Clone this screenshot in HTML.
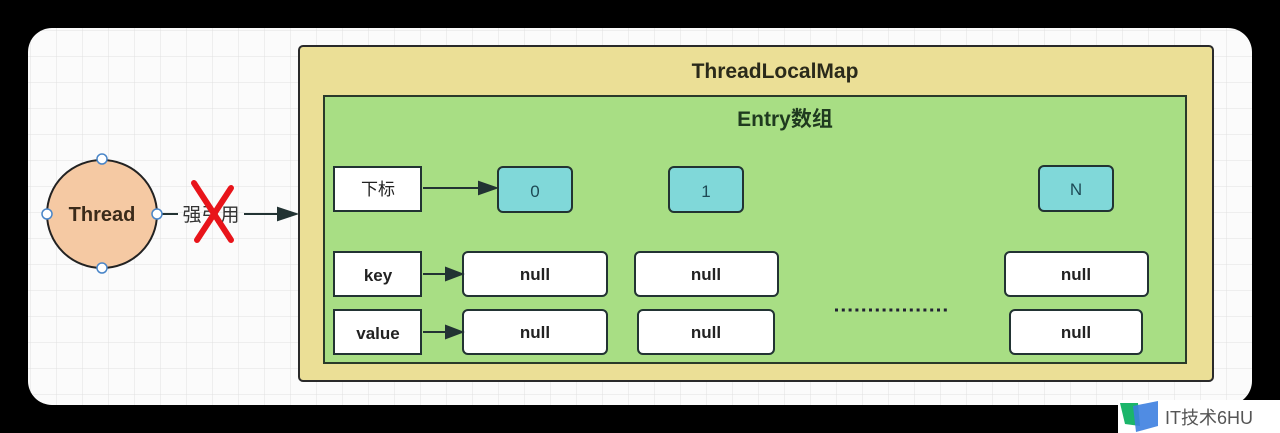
<!DOCTYPE html>
<html><head><meta charset="utf-8"><style>
html,body{margin:0;padding:0;background:#000;width:1280px;height:433px;overflow:hidden}
svg{display:block}
text{font-family:"Liberation Sans","Noto Sans CJK SC",sans-serif}
</style></head><body>
<svg width="1280" height="433" viewBox="0 0 1280 433" xmlns="http://www.w3.org/2000/svg">
<defs>
<pattern id="g" width="26" height="26" patternUnits="userSpaceOnUse" x="5" y="5">
<path d="M26 0V26M0 26H26" fill="none" stroke="#e0e0e0" stroke-width="1"/>
</pattern>
<clipPath id="cc"><rect x="28" y="28" width="1224" height="377" rx="24"/></clipPath>
</defs>
<rect x="28" y="28" width="1224" height="377" rx="24" fill="#fbfbfb"/>
<rect x="28" y="28" width="1224" height="377" fill="url(#g)" clip-path="url(#cc)"/>
<rect x="299" y="46" width="914" height="335" rx="4" fill="#ebdf96" stroke="#2a2a2a" stroke-width="2"/>
<text x="775" y="78" font-size="21" font-weight="bold" text-anchor="middle" fill="#2a2a1a">ThreadLocalMap</text>
<rect x="324" y="96" width="862" height="267" fill="#a8de84" stroke="#2a3a2a" stroke-width="2"/>
<text x="785" y="126" font-size="21" font-weight="bold" text-anchor="middle" fill="#1f3a1f">Entry数组</text>
<g stroke="#233" stroke-width="2">
<rect x="334" y="167" width="87" height="44" fill="#fff"/>
<rect x="334" y="252" width="87" height="44" fill="#fff"/>
<rect x="334" y="310" width="87" height="44" fill="#fff"/>
<rect x="498" y="167" width="74" height="45" rx="5" fill="#80d8d9"/>
<rect x="669" y="167" width="74" height="45" rx="5" fill="#80d8d9"/>
<rect x="1039" y="166" width="74" height="45" rx="5" fill="#80d8d9"/>
<rect x="463" y="252" width="144" height="44" rx="5" fill="#fff"/>
<rect x="635" y="252" width="143" height="44" rx="5" fill="#fff"/>
<rect x="1005" y="252" width="143" height="44" rx="5" fill="#fff"/>
<rect x="463" y="310" width="144" height="44" rx="5" fill="#fff"/>
<rect x="638" y="310" width="136" height="44" rx="5" fill="#fff"/>
<rect x="1010" y="310" width="132" height="44" rx="5" fill="#fff"/>
</g>
<g font-size="17" text-anchor="middle" fill="#222">
<text x="378" y="195">下标</text>
<text x="378" y="281" font-weight="bold">key</text>
<text x="378" y="339" font-weight="bold">value</text>
<text x="535" y="197" fill="#1d4a55">0</text>
<text x="706" y="197" fill="#1d4a55">1</text>
<text x="1076" y="195" fill="#1d4a55">N</text>
<g font-weight="bold"><text x="535" y="280">null</text><text x="706" y="280">null</text><text x="1076" y="280">null</text>
<text x="535" y="338">null</text><text x="706" y="338">null</text><text x="1076" y="338">null</text></g>
</g>
<line x1="835" y1="310" x2="950" y2="310" stroke="#223" stroke-width="3" stroke-dasharray="3,3.8"/>
<g stroke="#233" stroke-width="2" fill="#233">
<line x1="423" y1="188" x2="480" y2="188"/><path d="M496 188L479 182V194Z"/>
<line x1="423" y1="274" x2="447" y2="274"/><path d="M462 274L446 268V280Z"/>
<line x1="423" y1="332" x2="447" y2="332"/><path d="M462 332L446 326V338Z"/>
<line x1="158" y1="214" x2="178" y2="214"/>
<line x1="244" y1="214" x2="278" y2="214"/><path d="M296 214L278 208V220Z"/>
</g>
<ellipse cx="102" cy="214" rx="55" ry="54" fill="#f5c9a3" stroke="#222" stroke-width="2"/>
<text x="102" y="221" font-size="20" font-weight="bold" text-anchor="middle" fill="#3a2a1a">Thread</text>
<g fill="#fff" stroke="#4a86c8" stroke-width="1.5">
<circle cx="102" cy="159" r="5"/><circle cx="102" cy="268" r="5"/><circle cx="47" cy="214" r="5"/><circle cx="157" cy="214" r="5"/>
</g>
<text x="211" y="221" font-size="19" text-anchor="middle" fill="#333">强引用</text>
<g stroke="#e8141a" stroke-width="6" stroke-linecap="round">
<line x1="194" y1="183" x2="231" y2="240"/><line x1="231" y1="188" x2="197" y2="240"/>
</g>
<rect x="1118" y="400" width="162" height="33" fill="#fff"/>
<path d="M1120 403L1138 403L1140 426L1125 424Z" fill="#1bb56a"/>
<path d="M1133 406L1158 401L1158 426L1136 432Z" fill="#3d7fe0" opacity="0.9"/>
<text x="1165" y="424" font-size="18" fill="#555">IT技术6HU</text>
</svg>
</body></html>
